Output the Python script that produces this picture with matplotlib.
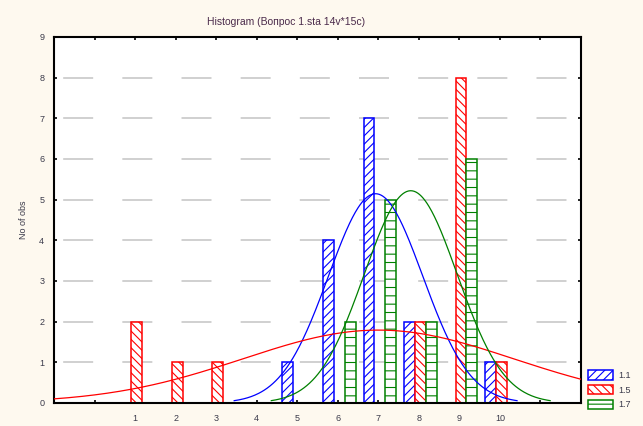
import numpy as np
import matplotlib
matplotlib.use("Agg")
import matplotlib.pyplot as plt

# Data: counts of answers per category (1..10) for three questions
categories = [1, 2, 3, 4, 5, 6, 7, 8, 9, 10]
counts_11 = [0, 0, 0, 0, 1, 4, 7, 2, 0, 1]
counts_15 = [2, 1, 1, 0, 0, 0, 0, 2, 8, 1]
counts_17 = [0, 0, 0, 0, 0, 2, 5, 2, 6, 0]
series_names = ["1.1", "1.5", "1.7"]

plt.rcParams['font.family'] = ['Liberation Sans', 'DejaVu Sans']
plt.rcParams['lines.scale_dashes'] = False
plt.rcParams['hatch.linewidth'] = 0.8

bg = '#fef9ef'
txt = '#3a3a4a'
colors = ['#0000ff', '#ff0000', '#008000']
hatches = ['////', '\\\\\\\\', '--']
offsets = [-0.23, 0.04, 0.31]
width = 0.27

fig = plt.figure(figsize=(6.43, 4.26), dpi=100, facecolor=bg)
ax = fig.add_axes([54 / 643, 23 / 426, 527 / 643, 366 / 426])
ax.set_facecolor('white')

x = np.array(categories, dtype=float)
all_counts = [counts_11, counts_15, counts_17]

# dashed grid lines
for yv in range(1, 9):
    ax.axhline(yv, color='#c4c4c4', lw=1.1, zorder=0,
               linestyle=(36, (21.6, 21.0)))

handles = []
for cnt, col, h, off, name in zip(all_counts, colors, hatches, offsets, series_names):
    cnt = np.array(cnt)
    mask = cnt > 0
    b = ax.bar(x[mask] + off, cnt[mask], width=width, facecolor='white',
               edgecolor=col, hatch=h, linewidth=1.1, zorder=2, label=name)
    handles.append(b)

# fitted normal curves
for cnt, col in zip(all_counts, colors):
    vals = np.repeat(x, cnt)
    n = len(vals)
    mu = vals.mean()
    sd = vals.std(ddof=1)
    xs = np.linspace(max(mu - 3 * sd, -1), min(mu + 3 * sd, 12), 300)
    ys = n / (sd * np.sqrt(2 * np.pi)) * np.exp(-(xs - mu) ** 2 / (2 * sd ** 2))
    ax.plot(xs, ys, color=col, lw=0.9, zorder=3)

ax.set_xlim(-1, 12)
ax.set_ylim(0, 9)
ax.set_xticks(range(0, 12))
ax.set_xticklabels([''] + [str(c) for c in categories] + [''])
ax.set_yticks(range(0, 10))
ax.tick_params(axis='both', direction='in', length=2.5, width=1.2,
               top=True, right=True, labelsize=6.5, labelcolor=txt, color='black')
ax.tick_params(axis='x', pad=8)
ax.tick_params(axis='y', pad=7)
for s in ax.spines.values():
    s.set_linewidth(1.5)

ax.set_ylabel('No of obs', fontsize=6.5, color=txt, labelpad=8)
fig.text(286 / 643, 1 - 22 / 426, 'Histogram (Вопрос 1.sta 14v*15c)',
         ha='center', va='center', fontsize=7.5, color='#4a2a4a')

leg = fig.legend(handles=handles, labels=series_names, loc='lower left',
                 bbox_to_anchor=(584 / 643, 13 / 426), frameon=False,
                 fontsize=6.5, handlelength=2.8, handleheight=1.2,
                 labelspacing=0.55, handletextpad=0.6, borderaxespad=0)
for t in leg.get_texts():
    t.set_color(txt)

fig.savefig('out.png', dpi=100, facecolor=bg)
